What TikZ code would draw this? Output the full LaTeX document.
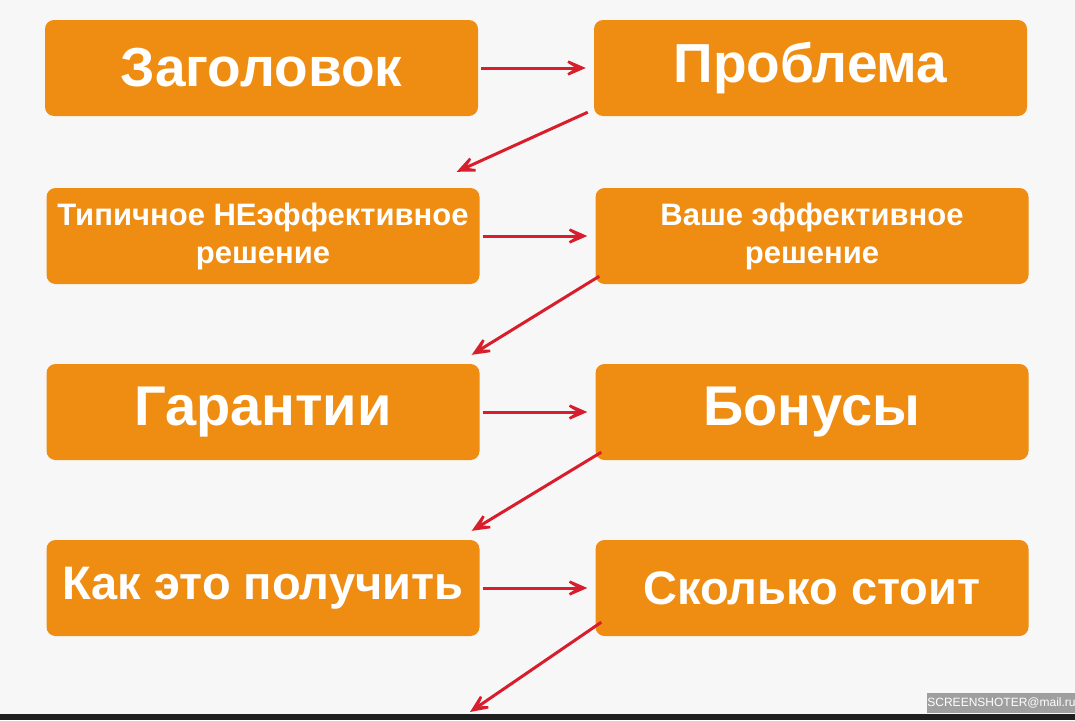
\documentclass[tikz,border=0pt]{standalone}
\usepackage{fontspec}
\setmainfont{Liberation Sans}
\usetikzlibrary{arrows.meta}

\definecolor{boxorange}{HTML}{EF8C12}
\definecolor{arrowred}{HTML}{D81E2C}
\definecolor{pagegray}{HTML}{F7F7F7}

\tikzset{
  stepbox/.style={fill=boxorange, rounded corners=9pt, minimum width=433pt,
    minimum height=96pt, text=white, align=center, inner sep=0pt},
  link/.style={arrowred, line width=3pt, -{Stealth[length=32pt,width=28pt,inset=22pt]}},
}

\begin{document}
\begin{tikzpicture}[x=1pt,y=-1pt]
\fill[pagegray] (0,0) rectangle (1075,720);
\useasboundingbox (0,0) rectangle (1075,720);

% Boxes, row by row
\node[stepbox, font=\fontsize{55}{58}\selectfont\bfseries] (head) at (261.5,68) {\raisebox{-3pt}{Заголовок}};
\node[stepbox, font=\fontsize{55}{58}\selectfont\bfseries] (problem) at (810.5,68) {\raisebox{-3pt}{Проблема}};
\node[stepbox, font=\fontsize{31}{38}\selectfont\bfseries] (bad) at (263,236) {\raisebox{-4pt}{Типичное НЕэффективное}\\\raisebox{-4pt}{решение}};
\node[stepbox, font=\fontsize{31}{38}\selectfont\bfseries] (good) at (812,236) {\raisebox{-4pt}{Ваше эффективное}\\\raisebox{-4pt}{решение}};
\node[stepbox, font=\fontsize{56}{60}\selectfont\bfseries] (guarantee) at (263,412) {Гарантии};
\node[stepbox, font=\fontsize{56}{60}\selectfont\bfseries] (bonus) at (812,412) {Бонусы};
\node[stepbox, font=\fontsize{47}{50}\selectfont\bfseries] (howto) at (263,588) {\raisebox{-5pt}{Как это получить}};
\node[stepbox, font=\fontsize{47}{50}\selectfont\bfseries] (price) at (812,588) {Сколько стоит};
\coordinate (next) at (470,712);

% Arrows across
\draw[link] ([xshift=3pt]head.east) -- ([xshift=-8pt]problem.west);
\draw[link] ([xshift=3pt]bad.east) -- ([xshift=-8pt]good.west);
\draw[link] ([xshift=3pt]guarantee.east) -- ([xshift=-8pt]bonus.west);
\draw[link] ([xshift=3pt]howto.east) -- ([xshift=-8pt]price.west);

% Arrows down
\draw[link] ([xshift=-6pt,yshift=4pt]problem.south west) -- ([xshift=-23pt,yshift=16pt]bad.north east);
\draw[link] ([xshift=4pt,yshift=8pt]good.south west) -- ([xshift=-8pt,yshift=9pt]guarantee.north east);
\draw[link] ([xshift=6pt,yshift=8pt]bonus.south west) -- ([xshift=-8pt,yshift=9pt]howto.north east);
\draw[link] ([xshift=6pt,yshift=14pt]price.south west) -- (next);

% Screenshot strip
\fill[black!88] (0,714) rectangle (1075,720);
\node[fill=gray!75, text=white, font=\fontsize{12}{13}\selectfont, minimum width=137pt,
  minimum height=20pt, inner sep=0pt] (mark) at (1001.5,703) {SCREENSHOTER@mail.ru};
\end{tikzpicture}
\end{document}
